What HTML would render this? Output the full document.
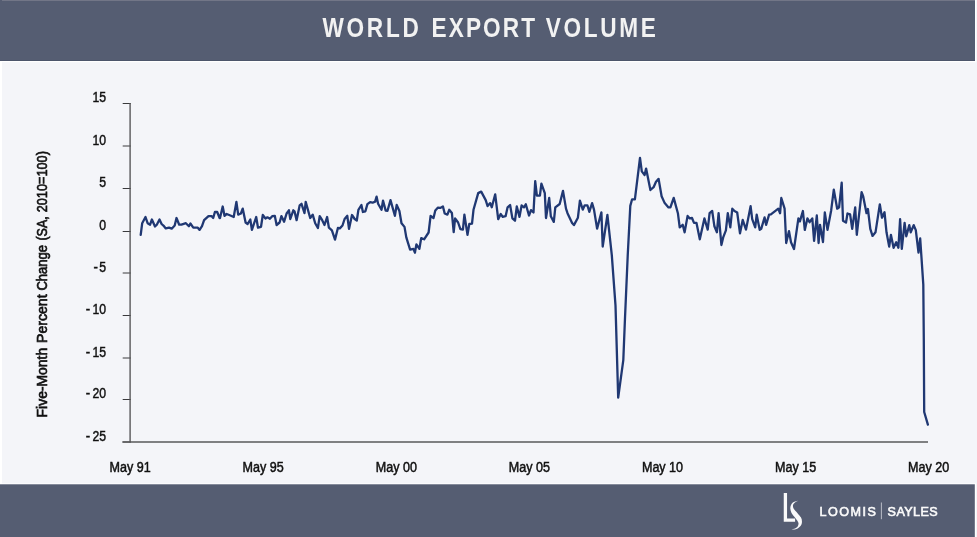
<!DOCTYPE html>
<html><head><meta charset="utf-8"><title>World Export Volume</title>
<style>
html,body{margin:0;padding:0;background:#fff;}
body{width:977px;height:537px;overflow:hidden;font-family:"Liberation Sans",sans-serif;}
svg{display:block;will-change:transform;font-family:"Liberation Sans",sans-serif;}
</style></head><body>
<svg width="977" height="537" viewBox="0 0 977 537">
<rect x="0" y="0" width="977" height="537" fill="#f4f5f9"/>
<rect x="0" y="61" width="2.05" height="423.3" fill="#ffffff"/>
<rect x="0" y="61" width="976.2" height="1.2" fill="#ffffff"/>
<rect x="975" y="0" width="1.2" height="62.2" fill="#ffffff"/>
<rect x="0" y="483.4" width="976" height="1" fill="#ffffff"/>
<rect x="974.8" y="483.4" width="1.2" height="53.6" fill="#ffffff"/>
<rect x="0" y="0" width="975" height="61" fill="#555d72"/>
<rect x="2" y="0" width="973" height="1" fill="#727687"/>
<rect x="0" y="60" width="975" height="1" fill="#4c556b"/>
<rect x="0" y="484.3" width="974.8" height="52.7" fill="#555d72"/>
<text transform="translate(322.4,37.0) scale(0.82,1)" font-size="27.6" text-anchor="start" font-weight="bold" fill="#f2f2f2" textLength="117.68" lengthAdjust="spacing">WORLD</text>
<text transform="translate(431.6,37.0) scale(0.82,1)" font-size="27.6" text-anchor="start" font-weight="bold" fill="#f2f2f2" textLength="126.10" lengthAdjust="spacing">EXPORT</text>
<text transform="translate(545.8,37.0) scale(0.82,1)" font-size="27.6" text-anchor="start" font-weight="bold" fill="#f2f2f2" textLength="134.15" lengthAdjust="spacing">VOLUME</text>
<line x1="122.7" y1="103.5" x2="130.8" y2="103.5" stroke="#3a3a3c" stroke-width="1"/>
<text transform="translate(106.0,102.1) scale(0.88,1)" font-size="13.9" text-anchor="end" font-weight="normal" fill="#111" stroke="#111" stroke-width="0.45">15</text>
<line x1="122.7" y1="146.0" x2="130.8" y2="146.0" stroke="#3a3a3c" stroke-width="1"/>
<text transform="translate(106.0,144.6) scale(0.88,1)" font-size="13.9" text-anchor="end" font-weight="normal" fill="#111" stroke="#111" stroke-width="0.45">10</text>
<line x1="122.7" y1="188.5" x2="130.8" y2="188.5" stroke="#3a3a3c" stroke-width="1"/>
<text transform="translate(106.0,187.1) scale(0.88,1)" font-size="13.9" text-anchor="end" font-weight="normal" fill="#111" stroke="#111" stroke-width="0.45">5</text>
<line x1="122.7" y1="231.5" x2="130.8" y2="231.5" stroke="#3a3a3c" stroke-width="1"/>
<text transform="translate(106.0,230.1) scale(0.88,1)" font-size="13.9" text-anchor="end" font-weight="normal" fill="#111" stroke="#111" stroke-width="0.45">0</text>
<line x1="122.7" y1="273.0" x2="130.8" y2="273.0" stroke="#3a3a3c" stroke-width="1"/>
<text transform="translate(106.0,271.6) scale(0.88,1)" font-size="13.9" text-anchor="end" font-weight="normal" fill="#111" stroke="#111" stroke-width="0.45">5</text>
<text transform="translate(93.5,271.6) scale(0.95,1)" font-size="13.9" text-anchor="start" font-weight="normal" fill="#111" stroke="#111" stroke-width="0.45">-</text>
<line x1="122.7" y1="315.5" x2="130.8" y2="315.5" stroke="#3a3a3c" stroke-width="1"/>
<text transform="translate(106.0,314.1) scale(0.88,1)" font-size="13.9" text-anchor="end" font-weight="normal" fill="#111" stroke="#111" stroke-width="0.45">10</text>
<text transform="translate(85.7,314.1) scale(0.95,1)" font-size="13.9" text-anchor="start" font-weight="normal" fill="#111" stroke="#111" stroke-width="0.45">-</text>
<line x1="122.7" y1="358.0" x2="130.8" y2="358.0" stroke="#3a3a3c" stroke-width="1"/>
<text transform="translate(106.0,356.6) scale(0.88,1)" font-size="13.9" text-anchor="end" font-weight="normal" fill="#111" stroke="#111" stroke-width="0.45">15</text>
<text transform="translate(85.7,356.6) scale(0.95,1)" font-size="13.9" text-anchor="start" font-weight="normal" fill="#111" stroke="#111" stroke-width="0.45">-</text>
<line x1="122.7" y1="399.5" x2="130.8" y2="399.5" stroke="#3a3a3c" stroke-width="1"/>
<text transform="translate(106.0,398.1) scale(0.88,1)" font-size="13.9" text-anchor="end" font-weight="normal" fill="#111" stroke="#111" stroke-width="0.45">20</text>
<text transform="translate(85.7,398.1) scale(0.95,1)" font-size="13.9" text-anchor="start" font-weight="normal" fill="#111" stroke="#111" stroke-width="0.45">-</text>
<line x1="122.7" y1="442.0" x2="130.8" y2="442.0" stroke="#3a3a3c" stroke-width="1"/>
<text transform="translate(106.0,440.6) scale(0.88,1)" font-size="13.9" text-anchor="end" font-weight="normal" fill="#111" stroke="#111" stroke-width="0.45">25</text>
<text transform="translate(85.7,440.6) scale(0.95,1)" font-size="13.9" text-anchor="start" font-weight="normal" fill="#111" stroke="#111" stroke-width="0.45">-</text>
<line x1="130.1" y1="103.0" x2="130.1" y2="442.5" stroke="#58585a" stroke-width="1.4"/>
<line x1="122.4" y1="442.0" x2="928" y2="442.0" stroke="#58585a" stroke-width="1.4"/>
<text transform="translate(130.1,472.2) scale(0.885,1)" font-size="14.2" text-anchor="middle" font-weight="normal" fill="#111" stroke="#111" stroke-width="0.5">May 91</text>
<text transform="translate(263.2,472.2) scale(0.885,1)" font-size="14.2" text-anchor="middle" font-weight="normal" fill="#111" stroke="#111" stroke-width="0.5">May 95</text>
<text transform="translate(396.3,472.2) scale(0.885,1)" font-size="14.2" text-anchor="middle" font-weight="normal" fill="#111" stroke="#111" stroke-width="0.5">May 00</text>
<text transform="translate(529.4,472.2) scale(0.885,1)" font-size="14.2" text-anchor="middle" font-weight="normal" fill="#111" stroke="#111" stroke-width="0.5">May 05</text>
<text transform="translate(662.5,472.2) scale(0.885,1)" font-size="14.2" text-anchor="middle" font-weight="normal" fill="#111" stroke="#111" stroke-width="0.5">May 10</text>
<text transform="translate(795.6,472.2) scale(0.885,1)" font-size="14.2" text-anchor="middle" font-weight="normal" fill="#111" stroke="#111" stroke-width="0.5">May 15</text>
<text transform="translate(928.7,472.2) scale(0.885,1)" font-size="14.2" text-anchor="middle" font-weight="normal" fill="#111" stroke="#111" stroke-width="0.5">May 20</text>
<text transform="translate(46.7,417.4) rotate(-90)" font-size="14" textLength="69.6" lengthAdjust="spacingAndGlyphs" fill="#111" stroke="#111" stroke-width="0.65">Five-Month</text>
<text transform="translate(46.7,343.0) rotate(-90)" font-size="14" textLength="48.6" lengthAdjust="spacingAndGlyphs" fill="#111" stroke="#111" stroke-width="0.65">Percent</text>
<text transform="translate(46.7,290.6) rotate(-90)" font-size="14" textLength="45.6" lengthAdjust="spacingAndGlyphs" fill="#111" stroke="#111" stroke-width="0.65">Change</text>
<text transform="translate(46.7,240.6) rotate(-90)" font-size="14" textLength="24.3" lengthAdjust="spacingAndGlyphs" fill="#111" stroke="#111" stroke-width="0.65">(SA,</text>
<text transform="translate(46.7,212.3) rotate(-90)" font-size="14" textLength="61.2" lengthAdjust="spacingAndGlyphs" fill="#111" stroke="#111" stroke-width="0.65">2010=100)</text>
<path d="M140.7,234.8 L142.2,223.2 L145.5,217.0 L147.6,223.2 L150.1,224.7 L151.9,219.5 L155.0,226.5 L156.8,224.7 L159.5,219.5 L161.6,224.0 L164.0,226.2 L165.8,228.4 L169.0,227.7 L171.7,228.7 L174.7,225.5 L176.5,218.0 L179.2,224.7 L181.4,224.7 L185.9,223.2 L188.9,226.2 L190.4,223.5 L193.3,227.7 L197.8,227.7 L199.6,229.9 L202.0,226.2 L204.1,220.2 L208.5,216.1 L211.5,216.1 L213.2,218.0 L214.9,212.0 L217.2,212.0 L219.6,218.0 L220.0,218.0 L222.7,206.5 L224.5,215.8 L226.7,214.0 L230.4,215.5 L233.7,217.0 L236.4,201.9 L238.2,214.6 L240.9,213.5 L242.7,208.6 L245.6,222.5 L247.6,224.0 L250.3,219.5 L251.9,229.9 L256.2,217.0 L258.0,227.7 L261.0,226.9 L262.8,215.0 L265.5,218.5 L267.4,217.3 L269.9,218.7 L272.2,216.2 L274.8,215.8 L276.6,225.0 L279.6,222.5 L281.4,216.1 L284.1,221.7 L286.6,213.5 L288.9,210.3 L290.3,219.0 L293.3,210.3 L294.5,211.3 L296.6,220.2 L299.7,205.3 L301.5,203.8 L304.5,213.1 L305.7,201.9 L310.2,218.0 L312.7,214.6 L315.2,223.2 L317.9,228.0 L319.7,216.1 L322.2,220.2 L324.5,225.0 L327.1,217.0 L328.9,227.7 L331.9,230.4 L335.0,239.6 L337.9,228.0 L339.8,228.4 L342.5,225.5 L344.6,219.0 L347.3,215.8 L349.0,228.9 L352.0,215.0 L354.7,219.0 L356.8,220.5 L358.4,209.8 L361.4,205.0 L362.9,212.0 L365.4,211.3 L367.4,204.1 L370.1,202.1 L372.6,202.7 L375.1,201.6 L376.6,196.7 L378.1,203.8 L381.5,209.8 L383.0,200.6 L385.7,210.6 L387.5,210.8 L390.5,200.1 L394.9,215.8 L396.7,205.0 L399.4,211.0 L401.5,223.2 L404.5,226.9 L406.3,237.4 L410.1,249.7 L413.4,248.9 L414.9,252.7 L416.4,244.4 L419.4,248.9 L421.2,238.1 L424.1,239.3 L428.6,232.5 L430.6,215.8 L433.5,218.0 L435.3,210.6 L438.0,207.6 L440.2,207.9 L442.9,206.4 L444.7,213.5 L447.4,214.6 L449.2,209.8 L451.9,213.1 L453.7,232.2 L455.1,218.5 L458.1,222.5 L460.4,229.2 L462.9,229.6 L464.4,214.6 L467.5,234.8 L469.3,224.0 L472.0,223.7 L473.5,209.8 L478.2,193.1 L481.2,191.6 L485.7,200.1 L487.6,206.1 L490.2,203.1 L491.8,207.3 L495.2,194.3 L498.2,219.2 L500.7,214.0 L502.7,216.9 L505.6,216.2 L507.6,207.3 L510.1,205.0 L512.4,218.4 L515.0,220.7 L516.8,206.5 L519.5,216.9 L521.6,205.5 L524.0,207.3 L525.8,204.3 L529.0,215.5 L531.0,210.2 L533.5,212.5 L535.2,181.2 L536.9,195.6 L539.9,195.6 L541.4,183.7 L544.8,193.1 L546.0,218.0 L549.2,198.0 L550.8,216.2 L553.8,221.9 L555.3,207.3 L559.7,204.0 L563.0,190.9 L566.0,208.6 L567.5,213.2 L572.1,223.1 L573.9,225.1 L577.9,217.7 L579.9,200.6 L582.8,209.6 L584.7,205.3 L587.4,205.3 L589.3,211.8 L592.1,203.1 L594.0,209.6 L597.1,228.6 L601.4,212.4 L602.7,246.5 L607.4,214.8 L611.8,255.1 L615.5,305.4 L618.2,397.7 L623.3,360.2 L625.0,318.0 L627.7,256.0 L630.3,205.9 L632.1,199.3 L634.9,199.3 L640.0,157.8 L641.8,171.4 L644.6,175.1 L646.1,168.6 L650.4,190.0 L653.6,187.2 L656.0,181.7 L658.6,178.9 L661.6,196.2 L664.7,203.1 L668.5,207.4 L670.4,207.3 L673.7,197.9 L677.9,213.2 L679.7,227.4 L682.7,224.8 L684.6,232.3 L687.6,215.9 L689.8,218.4 L692.0,218.0 L694.0,222.9 L696.5,222.9 L699.8,239.3 L704.4,218.4 L707.7,229.6 L709.6,213.2 L712.2,211.0 L714.4,226.3 L716.9,232.3 L718.6,213.2 L721.4,245.0 L723.3,237.1 L725.9,230.4 L727.8,213.2 L730.3,227.4 L732.3,208.7 L734.5,211.0 L737.2,212.5 L740.0,233.3 L742.7,219.9 L746.0,229.6 L750.6,206.2 L752.2,219.2 L755.2,227.4 L756.7,214.7 L759.7,229.9 L761.2,228.9 L764.6,217.4 L766.1,224.8 L769.1,214.7 L770.9,214.3 L778.3,208.7 L780.1,213.2 L781.3,198.0 L784.6,208.7 L786.2,243.0 L789.0,231.1 L791.0,242.3 L794.0,249.0 L798.4,218.4 L799.9,221.4 L802.9,211.0 L804.8,229.9 L807.4,218.4 L809.6,222.2 L812.3,218.4 L814.1,240.8 L816.8,215.5 L818.6,243.0 L820.0,224.8 L823.0,242.0 L824.8,212.5 L827.5,229.9 L831.2,210.2 L833.8,189.7 L837.2,208.7 L839.1,207.3 L841.7,182.7 L843.0,220.7 L846.0,222.6 L847.5,213.5 L850.1,214.3 L852.2,228.9 L855.2,207.3 L856.8,234.8 L861.6,192.1 L863.2,196.5 L866.5,213.2 L867.9,209.0 L870.3,228.9 L872.5,235.9 L875.5,232.3 L879.8,204.3 L882.0,217.7 L884.5,212.2 L886.5,232.3 L889.2,246.6 L890.9,234.8 L893.6,247.8 L896.2,242.2 L898.4,247.8 L900.1,219.2 L901.8,248.9 L904.6,222.8 L906.3,236.3 L909.3,225.1 L910.7,232.3 L913.7,225.1 L915.8,230.1 L918.5,252.5 L920.2,238.5 L923.3,284.7 L923.8,340.0 L924.2,412.0 L927.9,424.6" fill="none" stroke="#203873" stroke-width="2.3" stroke-linejoin="round" stroke-linecap="round"/>
<text transform="translate(819.5,515.7) scale(1,1)" font-size="12.6" text-anchor="start" font-weight="normal" fill="#fafafa" textLength="56.50" lengthAdjust="spacing" stroke="#fafafa" stroke-width="0.6">LOOMIS</text>
<text transform="translate(887.6,515.7) scale(1,1)" font-size="12.6" text-anchor="start" font-weight="normal" fill="#fafafa" textLength="50.00" lengthAdjust="spacing" stroke="#fafafa" stroke-width="0.6">SAYLES</text>
<line x1="881.4" y1="502.5" x2="881.4" y2="519.2" stroke="#b9bcc6" stroke-width="1"/>
<path d="M783.75,493.1 L787.05,493.1 L787.05,518.6 L795.1,518.6 L795.1,521.8 L783.75,521.8 Z" fill="#fafafa"/>
<path d="M799.11,500.21 C798.07,500.62 794.32,501.40 792.86,502.62 C791.40,503.85 790.58,505.82 790.36,507.54 C790.13,509.25 790.65,511.11 791.52,512.89 C792.38,514.68 794.39,516.61 795.54,518.25 C796.68,519.89 798.02,521.38 798.39,522.71 C798.76,524.05 798.32,525.32 797.77,526.29 C797.22,527.25 796.13,528.00 795.09,528.52 C794.05,529.04 792.11,529.26 791.52,529.41 C792.34,529.34 794.87,529.63 796.43,528.96 C797.99,528.29 799.97,526.66 800.89,525.39 C801.82,524.13 801.96,522.71 801.96,521.38 C801.96,520.04 801.67,518.77 800.89,517.36 C800.12,515.94 798.54,514.38 797.32,512.89 C796.10,511.40 794.27,509.77 793.57,508.43 C792.87,507.09 792.77,505.93 793.12,504.86 C793.48,503.79 794.72,502.77 795.71,502.00 C796.71,501.23 798.54,500.51 799.11,500.21 Z" fill="#fafafa"/>
</svg>
</body></html>
